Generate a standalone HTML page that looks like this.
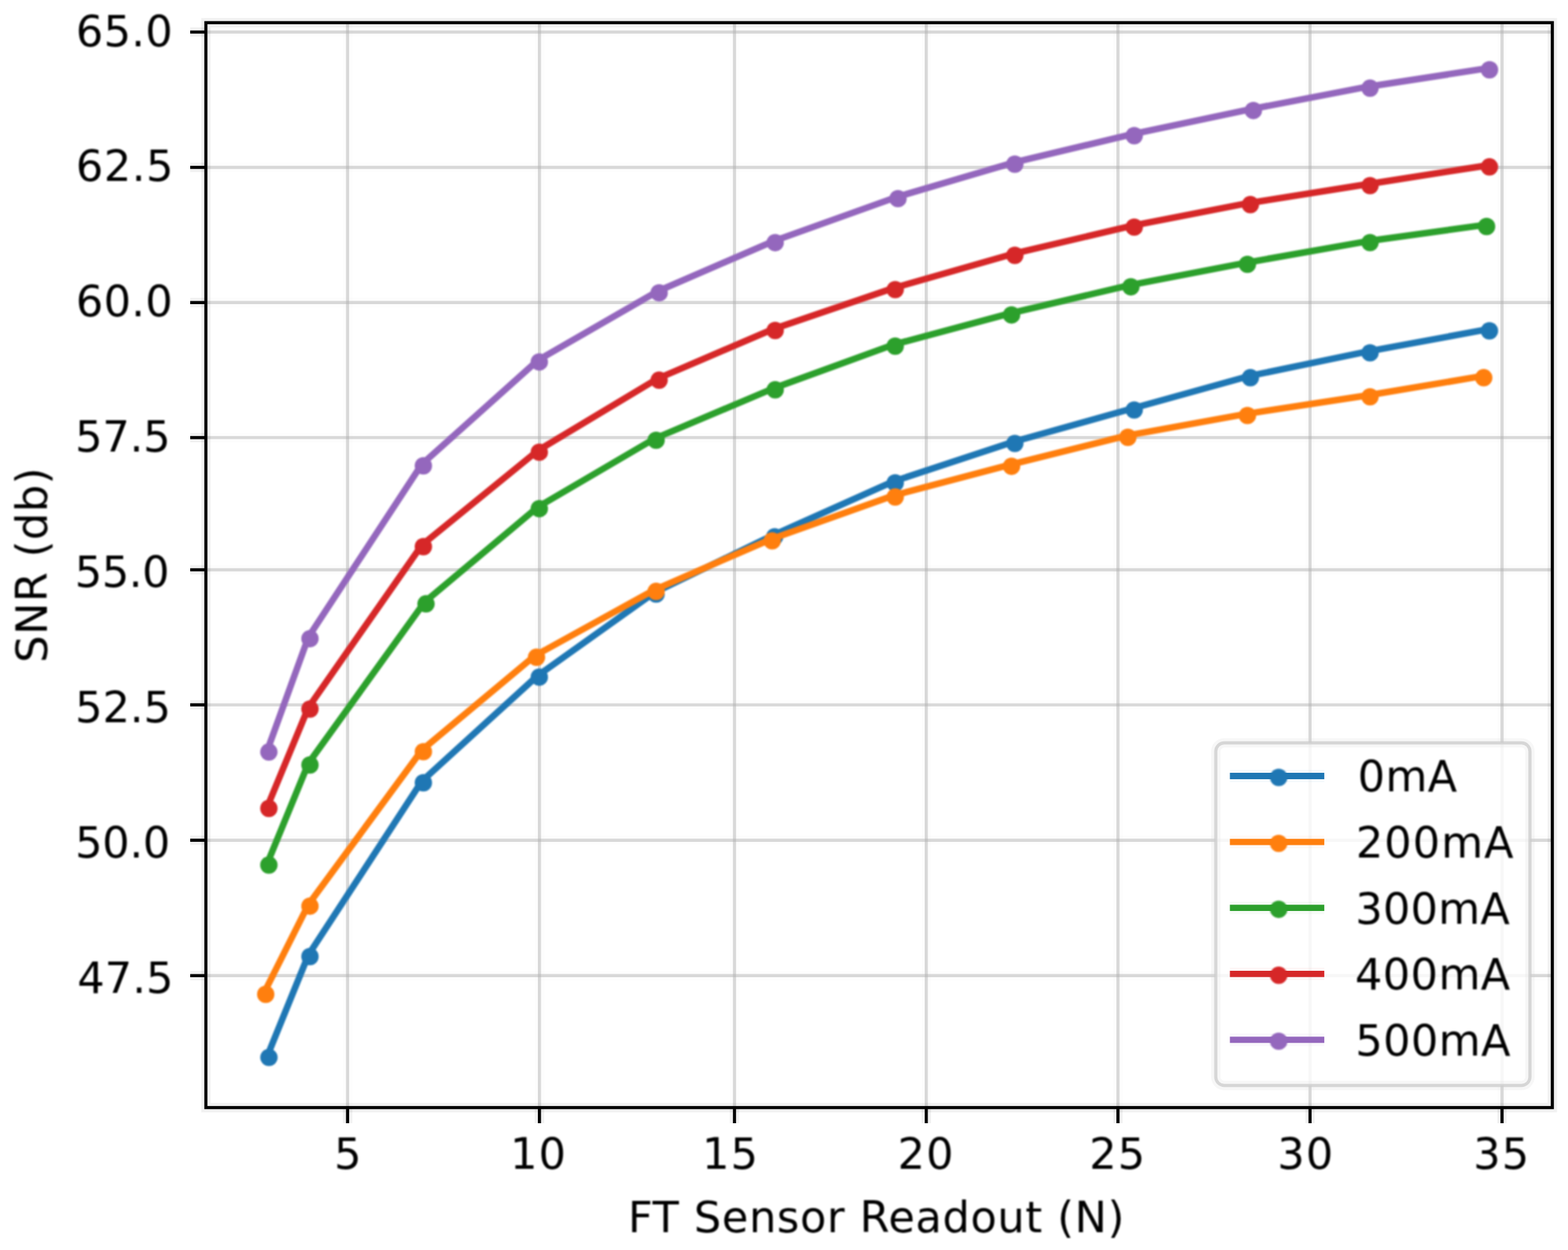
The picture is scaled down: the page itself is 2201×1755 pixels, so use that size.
<!DOCTYPE html>
<html lang="en"><head><meta charset="utf-8"><title>SNR vs FT Sensor Readout</title>
<style>html,body{margin:0;padding:0;background:#fff;}body{width:2201px;height:1755px;overflow:hidden;}svg{display:block;}text{font-family:"DejaVu Sans", "Liberation Sans", sans-serif;font-size:60.40px;fill:#000;white-space:pre;}</style>
</head><body>
<svg width="2201" height="1755" viewBox="0 0 2201 1755">
<defs><filter id="soft" x="0" y="0" width="2201" height="1755" filterUnits="userSpaceOnUse" color-interpolation-filters="sRGB"><feGaussianBlur stdDeviation="1.00"/></filter></defs>
<rect x="0" y="0" width="2201" height="1755" fill="#ffffff"/>
<g stroke="#b0b0b0" stroke-opacity="0.0278" stroke-width="13.20" fill="none">
<line x1="487.9" y1="31.9" x2="487.9" y2="1555.0"/>
<line x1="757.2" y1="31.9" x2="757.2" y2="1555.0"/>
<line x1="1031.0" y1="31.9" x2="1031.0" y2="1555.0"/>
<line x1="1300.2" y1="31.9" x2="1300.2" y2="1555.0"/>
<line x1="1569.3" y1="31.9" x2="1569.3" y2="1555.0"/>
<line x1="1838.9" y1="31.9" x2="1838.9" y2="1555.0"/>
<line x1="2108.4" y1="31.9" x2="2108.4" y2="1555.0"/>
<line x1="289.0" y1="45.0" x2="2179.0" y2="45.0"/>
<line x1="289.0" y1="235.0" x2="2179.0" y2="235.0"/>
<line x1="289.0" y1="424.8" x2="2179.0" y2="424.8"/>
<line x1="289.0" y1="614.4" x2="2179.0" y2="614.4"/>
<line x1="289.0" y1="800.0" x2="2179.0" y2="800.0"/>
<line x1="289.0" y1="989.6" x2="2179.0" y2="989.6"/>
<line x1="289.0" y1="1179.7" x2="2179.0" y2="1179.7"/>
<line x1="289.0" y1="1369.8" x2="2179.0" y2="1369.8"/>
</g>
<g stroke="#b0b0b0" stroke-opacity="0.4857" stroke-width="4.40" fill="none">
<line x1="487.9" y1="31.9" x2="487.9" y2="1555.0"/>
<line x1="757.2" y1="31.9" x2="757.2" y2="1555.0"/>
<line x1="1031.0" y1="31.9" x2="1031.0" y2="1555.0"/>
<line x1="1300.2" y1="31.9" x2="1300.2" y2="1555.0"/>
<line x1="1569.3" y1="31.9" x2="1569.3" y2="1555.0"/>
<line x1="1838.9" y1="31.9" x2="1838.9" y2="1555.0"/>
<line x1="2108.4" y1="31.9" x2="2108.4" y2="1555.0"/>
<line x1="289.0" y1="45.0" x2="2179.0" y2="45.0"/>
<line x1="289.0" y1="235.0" x2="2179.0" y2="235.0"/>
<line x1="289.0" y1="424.8" x2="2179.0" y2="424.8"/>
<line x1="289.0" y1="614.4" x2="2179.0" y2="614.4"/>
<line x1="289.0" y1="800.0" x2="2179.0" y2="800.0"/>
<line x1="289.0" y1="989.6" x2="2179.0" y2="989.6"/>
<line x1="289.0" y1="1179.7" x2="2179.0" y2="1179.7"/>
<line x1="289.0" y1="1369.8" x2="2179.0" y2="1369.8"/>
</g>
<g filter="url(#soft)">
<g fill="#1f77b4" stroke="none">
<polyline points="375.3,1482.4 432.9,1340.8 592.1,1096.8 754.8,948.5 918.8,831.8 1085.2,751.4 1254.4,675.8 1422.3,620.4 1589.9,573.4 1752.9,528.1 1920.9,493.2 2088.5,462.3" fill="none" stroke="#1f77b4" stroke-width="9.17" stroke-linejoin="round" stroke-linecap="butt"/>
<circle cx="377.5" cy="1484.6" r="12.2"/>
<circle cx="435.1" cy="1343.0" r="12.2"/>
<circle cx="594.3" cy="1099.0" r="12.2"/>
<circle cx="757.0" cy="950.7" r="12.2"/>
<circle cx="921.0" cy="834.0" r="12.2"/>
<circle cx="1087.4" cy="753.6" r="12.2"/>
<circle cx="1256.6" cy="678.0" r="12.2"/>
<circle cx="1424.5" cy="622.6" r="12.2"/>
<circle cx="1592.1" cy="575.6" r="12.2"/>
<circle cx="1755.1" cy="530.3" r="12.2"/>
<circle cx="1923.1" cy="495.4" r="12.2"/>
<circle cx="2090.7" cy="464.5" r="12.2"/>
</g>
<g fill="#ff7f0e" stroke="none">
<polyline points="370.8,1393.8 432.9,1270.0 592.1,1053.2 750.9,920.6 918.8,828.1 1081.7,757.2 1254.4,695.6 1417.7,652.5 1581.0,611.8 1748.8,581.2 1920.9,554.9 2080.5,528.1" fill="none" stroke="#ff7f0e" stroke-width="9.17" stroke-linejoin="round" stroke-linecap="butt"/>
<circle cx="373.0" cy="1396.0" r="12.2"/>
<circle cx="435.1" cy="1272.2" r="12.2"/>
<circle cx="594.3" cy="1055.4" r="12.2"/>
<circle cx="753.1" cy="922.8" r="12.2"/>
<circle cx="921.0" cy="830.3" r="12.2"/>
<circle cx="1083.9" cy="759.4" r="12.2"/>
<circle cx="1256.6" cy="697.8" r="12.2"/>
<circle cx="1419.9" cy="654.7" r="12.2"/>
<circle cx="1583.2" cy="614.0" r="12.2"/>
<circle cx="1751.0" cy="583.4" r="12.2"/>
<circle cx="1923.1" cy="557.1" r="12.2"/>
<circle cx="2082.7" cy="530.3" r="12.2"/>
</g>
<g fill="#2ca02c" stroke="none">
<polyline points="375.2,1212.3 432.9,1071.8 595.8,845.6 754.8,712.0 918.8,615.9 1085.9,545.1 1254.4,483.8 1417.7,440.0 1585.2,400.5 1748.8,368.9 1920.9,338.4 2084.5,315.8" fill="none" stroke="#2ca02c" stroke-width="9.17" stroke-linejoin="round" stroke-linecap="butt"/>
<circle cx="377.4" cy="1214.5" r="12.2"/>
<circle cx="435.1" cy="1074.0" r="12.2"/>
<circle cx="598.0" cy="847.8" r="12.2"/>
<circle cx="757.0" cy="714.2" r="12.2"/>
<circle cx="921.0" cy="618.1" r="12.2"/>
<circle cx="1088.1" cy="547.3" r="12.2"/>
<circle cx="1256.6" cy="486.0" r="12.2"/>
<circle cx="1419.9" cy="442.2" r="12.2"/>
<circle cx="1587.4" cy="402.7" r="12.2"/>
<circle cx="1751.0" cy="371.1" r="12.2"/>
<circle cx="1923.1" cy="340.6" r="12.2"/>
<circle cx="2086.7" cy="318.0" r="12.2"/>
</g>
<g fill="#d62728" stroke="none">
<polyline points="375.2,1132.8 432.9,993.3 592.1,765.3 754.8,632.7 923.0,531.6 1085.9,461.8 1254.4,404.4 1422.3,356.3 1589.9,316.7 1752.9,285.1 1920.9,258.4 2088.5,232.1" fill="none" stroke="#d62728" stroke-width="9.17" stroke-linejoin="round" stroke-linecap="butt"/>
<circle cx="377.4" cy="1135.0" r="12.2"/>
<circle cx="435.1" cy="995.5" r="12.2"/>
<circle cx="594.3" cy="767.5" r="12.2"/>
<circle cx="757.0" cy="634.9" r="12.2"/>
<circle cx="925.2" cy="533.8" r="12.2"/>
<circle cx="1088.1" cy="464.0" r="12.2"/>
<circle cx="1256.6" cy="406.6" r="12.2"/>
<circle cx="1424.5" cy="358.5" r="12.2"/>
<circle cx="1592.1" cy="318.9" r="12.2"/>
<circle cx="1755.1" cy="287.3" r="12.2"/>
<circle cx="1923.1" cy="260.6" r="12.2"/>
<circle cx="2090.7" cy="234.3" r="12.2"/>
</g>
<g fill="#9467bd" stroke="none">
<polyline points="375.2,1053.6 432.9,894.5 592.1,651.8 754.8,506.0 923.0,409.0 1085.9,338.5 1258.3,276.7 1422.3,228.3 1589.9,188.3 1757.1,153.0 1920.9,121.6 2088.6,95.8" fill="none" stroke="#9467bd" stroke-width="9.17" stroke-linejoin="round" stroke-linecap="butt"/>
<circle cx="377.4" cy="1055.8" r="12.2"/>
<circle cx="435.1" cy="896.7" r="12.2"/>
<circle cx="594.3" cy="654.0" r="12.2"/>
<circle cx="757.0" cy="508.2" r="12.2"/>
<circle cx="925.2" cy="411.2" r="12.2"/>
<circle cx="1088.1" cy="340.7" r="12.2"/>
<circle cx="1260.5" cy="278.9" r="12.2"/>
<circle cx="1424.5" cy="230.5" r="12.2"/>
<circle cx="1592.1" cy="190.5" r="12.2"/>
<circle cx="1759.3" cy="155.2" r="12.2"/>
<circle cx="1923.1" cy="123.8" r="12.2"/>
<circle cx="2090.8" cy="98.0" r="12.2"/>
</g>
</g>
<g stroke="#000" stroke-opacity="0.0556" stroke-width="13.20" fill="none">
<rect x="289.00" y="31.85" width="1890.00" height="1523.20"/>
<line x1="487.9" y1="1555.0" x2="487.9" y2="1577.0"/>
<line x1="757.2" y1="1555.0" x2="757.2" y2="1577.0"/>
<line x1="1031.0" y1="1555.0" x2="1031.0" y2="1577.0"/>
<line x1="1300.2" y1="1555.0" x2="1300.2" y2="1577.0"/>
<line x1="1569.3" y1="1555.0" x2="1569.3" y2="1577.0"/>
<line x1="1838.9" y1="1555.0" x2="1838.9" y2="1577.0"/>
<line x1="2108.4" y1="1555.0" x2="2108.4" y2="1577.0"/>
<line x1="267.0" y1="45.0" x2="289.0" y2="45.0"/>
<line x1="267.0" y1="235.0" x2="289.0" y2="235.0"/>
<line x1="267.0" y1="424.8" x2="289.0" y2="424.8"/>
<line x1="267.0" y1="614.4" x2="289.0" y2="614.4"/>
<line x1="267.0" y1="800.0" x2="289.0" y2="800.0"/>
<line x1="267.0" y1="989.6" x2="289.0" y2="989.6"/>
<line x1="267.0" y1="1179.7" x2="289.0" y2="1179.7"/>
<line x1="267.0" y1="1369.8" x2="289.0" y2="1369.8"/>
</g>
<g stroke="#000" stroke-opacity="1.0000" stroke-width="4.40" fill="none">
<rect x="289.00" y="31.85" width="1890.00" height="1523.20"/>
<line x1="487.9" y1="1555.0" x2="487.9" y2="1577.0"/>
<line x1="757.2" y1="1555.0" x2="757.2" y2="1577.0"/>
<line x1="1031.0" y1="1555.0" x2="1031.0" y2="1577.0"/>
<line x1="1300.2" y1="1555.0" x2="1300.2" y2="1577.0"/>
<line x1="1569.3" y1="1555.0" x2="1569.3" y2="1577.0"/>
<line x1="1838.9" y1="1555.0" x2="1838.9" y2="1577.0"/>
<line x1="2108.4" y1="1555.0" x2="2108.4" y2="1577.0"/>
<line x1="267.0" y1="45.0" x2="289.0" y2="45.0"/>
<line x1="267.0" y1="235.0" x2="289.0" y2="235.0"/>
<line x1="267.0" y1="424.8" x2="289.0" y2="424.8"/>
<line x1="267.0" y1="614.4" x2="289.0" y2="614.4"/>
<line x1="267.0" y1="800.0" x2="289.0" y2="800.0"/>
<line x1="267.0" y1="989.6" x2="289.0" y2="989.6"/>
<line x1="267.0" y1="1179.7" x2="289.0" y2="1179.7"/>
<line x1="267.0" y1="1369.8" x2="289.0" y2="1369.8"/>
</g>
<g filter="url(#soft)">
<text x="469.00" y="1641.00">5</text>
<text x="716.00" y="1641.00" letter-spacing="1.50">10</text>
<text x="985.50" y="1641.00" letter-spacing="1.50">15</text>
<text x="1260.00" y="1641.00" letter-spacing="1.50">20</text>
<text x="1529.00" y="1641.00" letter-spacing="1.50">25</text>
<text x="1793.00" y="1641.00" letter-spacing="1.50">30</text>
<text x="2068.00" y="1641.00" letter-spacing="1.50">35</text>
<text x="106.50" y="64.50" letter-spacing="0.50">65.0</text>
<text x="106.50" y="254.40" letter-spacing="0.83">62.5</text>
<text x="106.50" y="444.30" letter-spacing="0.50">60.0</text>
<text x="105.50" y="634.30" letter-spacing="-0.17">57.5</text>
<text x="105.00" y="824.00" letter-spacing="-0.50">55.0</text>
<text x="105.50" y="1014.10">52.5</text>
<text x="105.50" y="1204.00" letter-spacing="-0.33">50.0</text>
<text x="108.50" y="1394.00" letter-spacing="0.17">47.5</text>
<text x="881.50" y="1729.60" letter-spacing="0.93">FT Sensor Readout (N)</text>
<text transform="translate(65.8,793.0) rotate(-90)" text-anchor="middle" letter-spacing="0.8">SNR (db)</text>
</g>
<rect x="1706.6" y="1043.0" width="441.0" height="481.0" rx="12" ry="12" fill="#ffffff" fill-opacity="0.8" stroke="none"/>
<rect x="1706.6" y="1043.0" width="441.0" height="481.0" rx="12" ry="12" fill="none" stroke="#cccccc" stroke-opacity="0.1556" stroke-width="13.20"/>
<rect x="1706.6" y="1043.0" width="441.0" height="481.0" rx="12" ry="12" fill="none" stroke="#cccccc" stroke-opacity="0.7632" stroke-width="4.40"/>
<g stroke-opacity="0.0417" stroke-width="17.60" fill="none">
<line x1="1726.4" y1="1089.5" x2="1858.9" y2="1089.5" stroke="#1f77b4"/>
<line x1="1726.4" y1="1182.1" x2="1858.9" y2="1182.1" stroke="#ff7f0e"/>
<line x1="1726.4" y1="1274.7" x2="1858.9" y2="1274.7" stroke="#2ca02c"/>
<line x1="1726.4" y1="1367.3" x2="1858.9" y2="1367.3" stroke="#d62728"/>
<line x1="1726.4" y1="1459.9" x2="1858.9" y2="1459.9" stroke="#9467bd"/>
</g>
<g stroke-opacity="1.0000" stroke-width="8.80" fill="none">
<line x1="1726.4" y1="1089.5" x2="1858.9" y2="1089.5" stroke="#1f77b4"/>
<line x1="1726.4" y1="1182.1" x2="1858.9" y2="1182.1" stroke="#ff7f0e"/>
<line x1="1726.4" y1="1274.7" x2="1858.9" y2="1274.7" stroke="#2ca02c"/>
<line x1="1726.4" y1="1367.3" x2="1858.9" y2="1367.3" stroke="#d62728"/>
<line x1="1726.4" y1="1459.9" x2="1858.9" y2="1459.9" stroke="#9467bd"/>
</g>
<g filter="url(#soft)">
<circle cx="1794.9" cy="1091.5" r="12.2" fill="#1f77b4"/>
<text x="1905.80" y="1111.20" letter-spacing="0.50">0mA</text>
<circle cx="1794.9" cy="1184.1" r="12.2" fill="#ff7f0e"/>
<text x="1903.20" y="1203.80" letter-spacing="1.50">200mA</text>
<circle cx="1794.9" cy="1276.7" r="12.2" fill="#2ca02c"/>
<text x="1902.40" y="1296.60" letter-spacing="0.38">300mA</text>
<circle cx="1794.9" cy="1369.3" r="12.2" fill="#d62728"/>
<text x="1902.00" y="1389.40" letter-spacing="0.63">400mA</text>
<circle cx="1794.9" cy="1461.9" r="12.2" fill="#9467bd"/>
<text x="1902.40" y="1482.00" letter-spacing="0.62">500mA</text>
</g>
</svg>
</body></html>
